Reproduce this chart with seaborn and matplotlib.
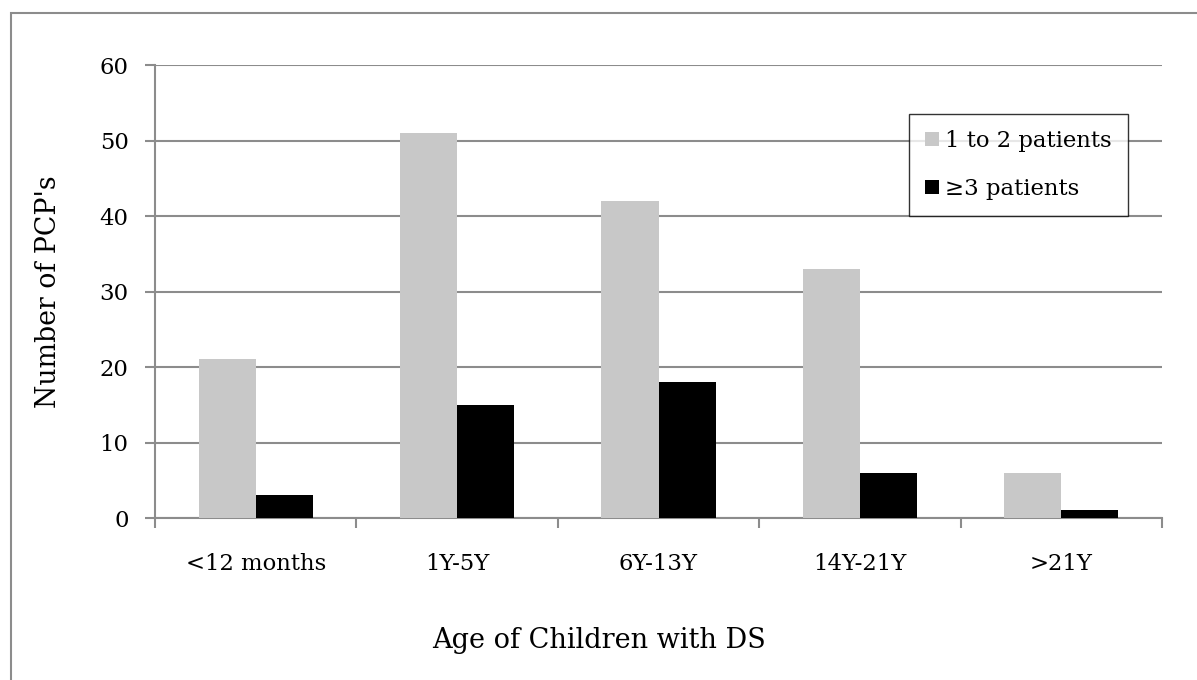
import numpy as np
import pandas as pd
import matplotlib
matplotlib.use("Agg")
import matplotlib.pyplot as plt
import seaborn as sns
from matplotlib.patches import Rectangle

age_groups = ["<12 months", "1Y-5Y", "6Y-13Y", "14Y-21Y", ">21Y"]
series_names = ["1 to 2 patients", "\u22653 patients"]
one_to_two = [21, 51, 42, 33, 6]
three_plus = [3, 15, 18, 6, 1]
y_ticks = [0, 10, 20, 30, 40, 50, 60]

df = pd.DataFrame({
    "age": age_groups * 2,
    "group": [series_names[0]] * len(age_groups) + [series_names[1]] * len(age_groups),
    "count": one_to_two + three_plus,
})

sns.set_style("white")
plt.rcParams["font.family"] = ["DejaVu Serif"]
plt.rcParams["text.color"] = "black"
plt.rcParams["xtick.labelcolor"] = "black"
plt.rcParams["ytick.labelcolor"] = "black"
plt.rcParams["axes.labelcolor"] = "black"

fig = plt.figure(figsize=(11.97, 6.8), dpi=100)
ax = fig.add_axes([0.1295, 0.2382, 0.8413, 0.6662])

sns.barplot(
    data=df, x="age", y="count", hue="group", order=age_groups,
    hue_order=series_names, palette=["#c8c8c8", "#000000"],
    width=0.567, gap=0, saturation=1, ax=ax, zorder=3, edgecolor="none",
)

ax.set_ylim(0, 60)
ax.set_xlim(-0.5, len(age_groups) - 0.5)
ax.set_yticks(y_ticks)
ax.yaxis.grid(True, color="#8c8c8c", linewidth=1.5, zorder=0)
ax.set_axisbelow(True)

for side in ["top", "right"]:
    ax.spines[side].set_visible(False)
for side in ["left", "bottom"]:
    ax.spines[side].set_color("#8c8c8c")
    ax.spines[side].set_linewidth(1.5)

ax.tick_params(axis="y", which="major", length=7, width=1.5, color="#8c8c8c",
               pad=12, labelsize=16.4, left=True)
ax.set_xticks(np.arange(-0.5, len(age_groups)), minor=True)
ax.tick_params(axis="x", which="minor", length=7, width=1.5, color="#8c8c8c",
               bottom=True)
ax.tick_params(axis="x", which="major", length=0, pad=25, labelsize=16.4)

ax.set_xlabel("")
ax.set_ylabel("Number of PCP's", fontsize=19.3, labelpad=27)
fig.text(0.5, 1 - 640 / 680, "Age of Children with DS", fontsize=19.5,
         ha="center", va="center")

leg = ax.legend(loc="upper right", bbox_to_anchor=(1128 / 1197, 1 - 114 / 680),
                bbox_transform=fig.transFigure, fontsize=16.4,
                frameon=True, fancybox=False, handlelength=0.6,
                handleheight=0.6, handletextpad=0.3, borderpad=0.7,
                labelspacing=1.15, borderaxespad=0)
leg.get_frame().set_edgecolor("black")
leg.get_frame().set_linewidth(1.0)

fig.patches.append(Rectangle((11 / 1197, -0.2), 1.2, 1.2 - 13 / 680,
                             transform=fig.transFigure, fill=False,
                             edgecolor="#8c8c8c", linewidth=1.5))

fig.savefig("out.png", dpi=100)
